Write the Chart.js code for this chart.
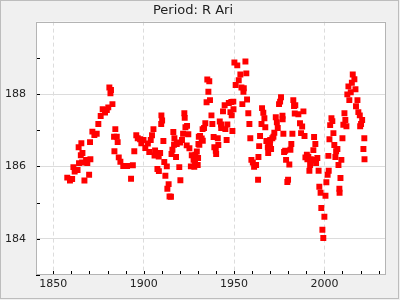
<!DOCTYPE html>
<html>
<head>
<meta charset="utf-8">
<title>Period: R Ari</title>
<script src="https://cdn.jsdelivr.net/npm/chart.js@4.4.0/dist/chart.umd.min.js"></script>
<style>
  html, body { margin: 0; padding: 0; background: #f0f0f0; }
  canvas { display: block; }
</style>
</head>
<body>
<canvas id="periodChart" width="400" height="300"></canvas>
<script>
'use strict'

// year of maximum and measured period (days)
const years = [
    1857.7, 1859.2, 1860.4, 1861.1, 1861.8, 1863.4, 1864.0, 1864.2, 1865.2, 1865.5,
    1865.9, 1866.1, 1867.2, 1868.1, 1868.8, 1869.8, 1870.3, 1870.5, 1871.6, 1872.7,
    1874.0, 1874.9, 1876.2, 1877.3, 1878.6, 1879.6, 1880.4, 1881.0, 1881.6, 1881.9,
    1882.7, 1883.6, 1883.8, 1884.3, 1885.1, 1885.6, 1886.2, 1887.1, 1888.7, 1890.8,
    1893.0, 1894.0, 1894.8, 1895.9, 1896.7, 1898.0, 1898.7, 1899.9, 1900.9, 1902.3,
    1903.1, 1903.9, 1904.6, 1905.4, 1906.0, 1906.3, 1907.4, 1907.6, 1908.3, 1908.4,
    1909.1, 1909.7, 1909.8, 1910.2, 1910.9, 1911.4, 1912.0, 1912.8, 1913.1, 1913.8,
    1914.3, 1915.1, 1915.4, 1915.9, 1916.4, 1916.8, 1917.0, 1917.9, 1918.3, 1919.7,
    1920.1, 1920.3, 1921.2, 1921.8, 1922.5, 1922.7, 1923.1, 1923.8, 1924.0, 1924.7,
    1925.3, 1926.1, 1926.6, 1927.6, 1928.0, 1928.4, 1928.6, 1929.4, 1929.9, 1930.1,
    1930.3, 1930.5, 1930.8, 1931.2, 1932.1, 1932.6, 1932.7, 1933.4, 1934.1, 1934.8,
    1935.2, 1935.8, 1936.3, 1936.7, 1937.5, 1938.0, 1938.7, 1939.1, 1939.9, 1940.1,
    1941.0, 1941.3, 1942.1, 1942.8, 1942.9, 1943.9, 1944.8, 1945.2, 1945.9, 1946.3,
    1947.1, 1948.0, 1948.5, 1948.7, 1949.1, 1949.6, 1949.7, 1950.2, 1950.9, 1951.8,
    1952.6, 1953.5, 1954.1, 1954.6, 1955.2, 1955.4, 1956.3, 1956.8, 1957.2, 1957.9,
    1958.5, 1959.0, 1959.6, 1960.4, 1961.1, 1962.2, 1963.3, 1963.5, 1963.9, 1964.4,
    1965.2, 1965.5, 1966.2, 1966.8, 1967.3, 1967.9, 1968.7, 1968.9, 1969.2, 1969.9,
    1970.0, 1970.5, 1971.2, 1971.8, 1972.3, 1973.1, 1973.7, 1974.2, 1974.9, 1975.5,
    1976.0, 1976.8, 1976.9, 1977.3, 1977.7, 1978.3, 1978.8, 1979.5, 1979.9, 1980.6,
    1981.2, 1981.7, 1982.3, 1982.8, 1983.2, 1983.6, 1983.9, 1985.6, 1986.5, 1987.1,
    1987.7, 1988.4, 1989.0, 1989.5, 1990.3, 1990.6, 1991.1, 1991.7, 1992.1, 1992.5,
    1993.6, 1993.9, 1994.3, 1994.5, 1995.0, 1995.4, 1996.1, 1996.8, 1997.2, 1997.9,
    1998.3, 1998.9, 1999.4, 2000.0, 2000.6, 2001.1, 2001.8, 2002.2, 2002.4, 2002.8,
    2003.2, 2003.9, 2004.4, 2005.0, 2005.5, 2006.1, 2006.5, 2007.2, 2007.8, 2008.3,
    2008.4, 2008.9, 2009.4, 2010.0, 2010.5, 2011.1, 2011.6, 2012.2, 2012.7, 2013.3,
    2013.8, 2014.6, 2015.2, 2015.7, 2016.6, 2017.2, 2017.5, 2018.3, 2018.8, 2019.6,
    2019.8, 2020.3, 2020.9, 2021.6, 2022.1, 2022.2
];
const periods = [
    185.69, 185.61, 185.65, 185.98, 185.86, 185.90, 186.53, 186.09, 186.31, 186.64,
    186.11, 186.37, 185.61, 186.18, 186.09, 185.77, 186.67, 186.20, 186.96, 186.87,
    186.90, 187.17, 187.39, 187.58, 187.49, 187.56, 187.63, 188.18, 188.02, 188.11,
    187.72, 186.82, 186.42, 187.03, 186.82, 186.67, 186.25, 186.13, 186.01, 186.01,
    185.66, 186.03, 186.42, 186.86, 186.78, 186.75, 186.64, 186.73, 186.51, 186.63,
    186.40, 186.73, 186.86, 187.03, 186.30, 186.44, 186.37, 185.93, 186.27, 185.87,
    186.37, 187.17, 187.41, 187.27, 186.70, 186.12, 185.74, 186.00, 185.38, 185.51,
    185.17, 185.16, 186.34, 186.46, 186.95, 186.60, 186.78, 186.26, 186.62, 185.98,
    186.66, 185.62, 186.73, 186.90, 187.47, 187.34, 187.08, 186.58, 187.12, 186.89,
    186.50, 186.00, 186.31, 186.18, 185.99, 186.09, 186.32, 186.41, 186.04, 186.23,
    186.62, 186.82, 186.60, 186.84, 186.77, 187.03, 186.71, 187.06, 187.19, 187.77,
    188.40, 188.06, 188.35, 187.83, 187.41, 187.17, 186.81, 186.53, 186.43, 186.34,
    186.78, 186.59, 187.24, 187.16, 187.06, 187.52, 187.69, 187.03, 186.73, 187.16,
    187.75, 187.50, 187.78, 187.41, 186.98, 187.79, 187.58, 188.87, 188.25, 188.79,
    188.38, 188.54, 188.18, 187.72, 188.06, 188.16, 188.90, 188.57, 187.85, 187.47,
    187.17, 186.78, 186.18, 186.11, 185.99, 186.04, 185.63, 186.26, 186.56, 186.84,
    187.17, 187.61, 187.48, 187.33, 187.08, 186.70, 186.53, 186.37, 186.66, 186.57,
    186.73, 186.48, 186.78, 186.82, 186.93, 187.36, 187.22, 187.06, 187.72, 187.79,
    187.91, 187.40, 187.30, 186.90, 186.40, 186.43, 186.18, 185.57, 185.63, 186.05,
    186.46, 186.62, 186.90, 187.83, 187.67, 187.46, 187.69, 187.44, 187.19, 186.92,
    187.10, 187.52, 186.84, 186.25, 186.32, 186.20, 186.27, 185.88, 186.04, 186.20,
    186.16, 186.45, 186.81, 186.18, 186.62, 186.09, 186.23, 185.88, 185.44, 185.27,
    184.85, 184.25, 184.02, 184.61, 185.19, 185.56, 185.77, 186.29, 185.88, 186.75,
    187.14, 187.33, 187.25, 186.92, 186.59, 186.26, 186.42, 186.48, 186.04, 185.38,
    185.27, 185.68, 186.18, 186.78, 187.15, 187.47, 187.28, 187.11, 187.99, 188.21,
    187.83, 188.05, 188.31, 188.54, 188.41, 188.13, 187.66, 187.83, 187.50, 187.41,
    187.11, 187.17, 187.28, 186.48, 186.78, 186.20
];

const xLabelYears = [1850, 1900, 1950, 2000];
const yLabelValues = [184, 186, 188];

const tickFont = { family: 'DejaVu Sans', size: 11 };

// plot background, frame and inward tick marks
const frameAndTicks = {
    id: 'frameAndTicks',
    beforeDraw(chart) {
        const { ctx, chartArea: a } = chart;
        ctx.save();
        ctx.fillStyle = '#f0f0f0';
        ctx.fillRect(0, 0, chart.width, chart.height);
        ctx.fillStyle = '#ffffff';
        ctx.fillRect(a.left, a.top, a.right - a.left, a.bottom - a.top);
        ctx.restore();
    },
    afterDraw(chart) {
        const { ctx, chartArea: a, scales } = chart;
        ctx.save();
        ctx.strokeStyle = '#000000';
        ctx.lineWidth = 1;
        ctx.beginPath();
        scales.x.ticks.forEach(t => {
            const px = Math.round(scales.x.getPixelForValue(t.value)) + 0.5;
            ctx.moveTo(px, a.bottom);
            ctx.lineTo(px, a.bottom - 4);
        });
        scales.y.ticks.forEach(t => {
            const py = Math.round(scales.y.getPixelForValue(t.value)) + 0.5;
            ctx.moveTo(a.left, py);
            ctx.lineTo(a.left + 4, py);
        });
        ctx.stroke();
        ctx.strokeStyle = '#b4b4b4';
        ctx.strokeRect(Math.round(a.left) + 0.5, Math.round(a.top) + 0.5,
            Math.round(a.right - a.left) - 1, Math.round(a.bottom - a.top) - 1);
        ctx.strokeStyle = '#bdbdbd';
        ctx.strokeRect(0.5, 0.5, chart.width - 2, chart.height - 2);
        ctx.restore();
    }
};

const chartCtx = document.getElementById('periodChart').getContext('2d');

const periodChart = new Chart(chartCtx, {
    type: 'scatter',
    data: {
        datasets: [{
            label: 'Period',
            data: years.map((yr, i) => ({ x: yr, y: periods[i] })),
            pointStyle: 'rect',
            pointRadius: 4.2,
            pointBorderWidth: 0,
            pointBackgroundColor: '#ff0000',
            pointBorderColor: '#ff0000',
            backgroundColor: '#ff0000',
            borderColor: '#ff0000'
        }]
    },
    options: {
        responsive: false,
        animation: false,
        layout: { padding: { left: 0, right: 14, top: 0, bottom: 0 } },
        plugins: {
            legend: { display: false },
            tooltip: { enabled: false },
            title: {
                display: true,
                text: 'Period: R Ari',
                color: '#222222',
                font: { family: 'DejaVu Sans', size: 13, weight: 'normal' },
                padding: { top: 3, bottom: 3 }
            }
        },
        scales: {
            x: {
                type: 'linear',
                min: 1840.4,
                max: 2034.1,
                afterFit: scale => { scale.height = 25; },
                grid: {
                    drawTicks: false,
                    color: c => (c.tick && xLabelYears.includes(c.tick.value)) ? '#dcdcdc' : 'rgba(0,0,0,0)'
                },
                border: { display: false, dash: [4, 3] },
                ticks: {
                    stepSize: 10,
                    includeBounds: false,
                    autoSkip: false,
                    maxRotation: 0,
                    padding: 3,
                    color: '#222222',
                    font: tickFont,
                    callback: v => xLabelYears.includes(v) ? String(v) : ''
                }
            },
            y: {
                type: 'linear',
                min: 183,
                max: 190,
                afterFit: scale => { scale.width = 36; },
                grid: {
                    drawTicks: false,
                    color: c => (c.tick && yLabelValues.includes(c.tick.value)) ? '#dcdcdc' : 'rgba(0,0,0,0)'
                },
                border: { display: false },
                ticks: {
                    stepSize: 1,
                    autoSkip: false,
                    padding: 10,
                    color: '#222222',
                    font: tickFont,
                    callback: v => yLabelValues.includes(v) ? String(v) : ''
                }
            }
        }
    },
    plugins: [frameAndTicks]
});
</script>
</body>
</html>
